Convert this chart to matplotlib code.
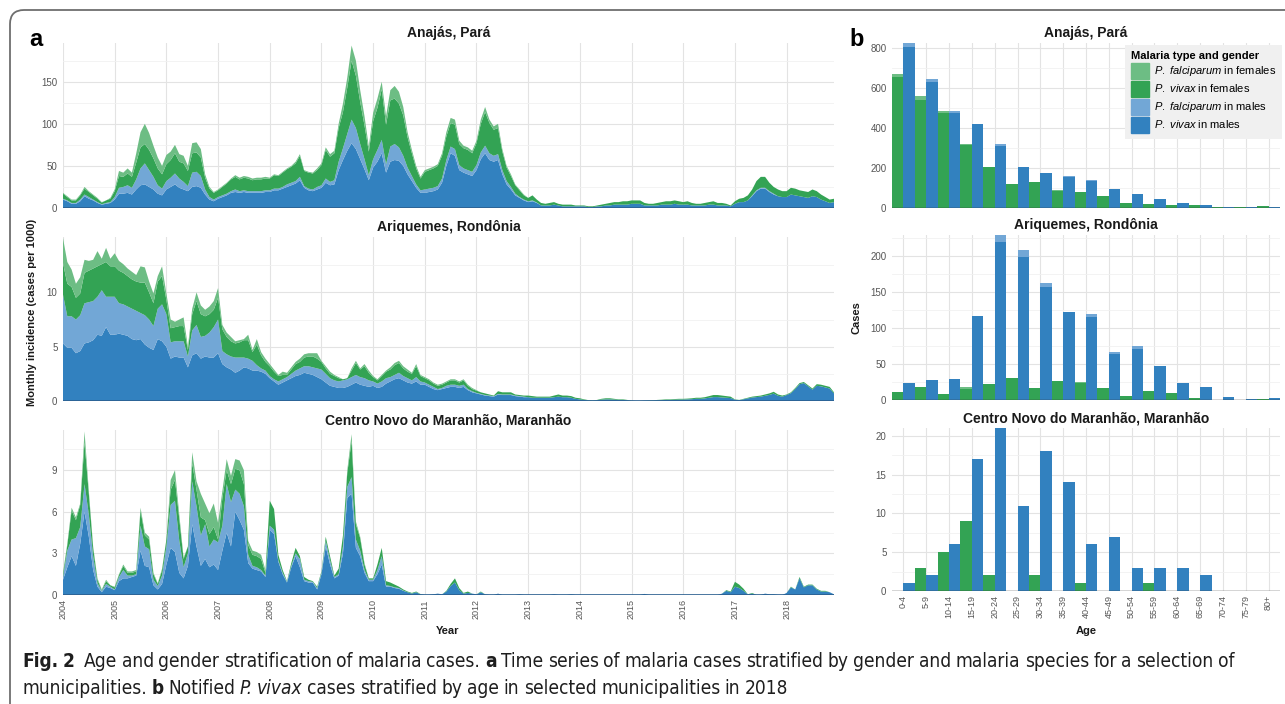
import numpy as np
import matplotlib.pyplot as plt
from matplotlib.patches import FancyBboxPatch, Patch
from matplotlib import font_manager

plt.rcParams['font.family'] = ['Liberation Sans', 'DejaVu Sans']
plt.rcParams['mathtext.fontset'] = 'custom'
plt.rcParams['mathtext.rm'] = 'Liberation Sans'
plt.rcParams['mathtext.it'] = 'Liberation Sans:italic'
plt.rcParams['mathtext.bf'] = 'Liberation Sans:bold'

# ---------------- data: monthly incidence 2004-01 .. 2018-12 ----------------
# vm = P. vivax males, fm = P. falciparum males, vf = P. vivax females, ff = P. falciparum females
anajas_vm = [
    10, 8, 5, 5, 8, 14, 11, 9, 6, 4, 5, 6,
    10, 17, 17, 18, 16, 22, 27, 28, 25, 22, 17, 15,
    22, 25, 28, 24, 22, 20, 25, 26, 24, 16, 10, 8,
    11, 13, 15, 18, 19, 18, 19, 18, 18, 18, 18, 19,
    19, 21, 21, 23, 25, 27, 29, 33, 24, 21, 20, 22,
    24, 30, 27, 28, 45, 57, 68, 77, 70, 58, 46, 33,
    48, 55, 65, 42, 55, 57, 56, 50, 40, 32, 24, 18,
    18, 19, 20, 22, 30, 50, 65, 62, 45, 42, 40, 38,
    45, 58, 65, 57, 55, 57, 40, 28, 22, 15, 12, 9,
    7, 8, 6, 3, 3, 3, 4, 3, 2, 2, 2, 2,
    2, 2, 1, 1, 2, 2, 3, 3, 4, 4, 4, 4,
    5, 5, 5, 3, 3, 3, 3, 4, 4, 4, 5, 4,
    4, 4, 3, 3, 3, 3, 4, 4, 3, 3, 3, 2,
    5, 7, 7, 9, 14, 20, 23, 23, 19, 16, 14, 13,
    13, 16, 15, 14, 13, 12, 14, 13, 10, 8, 6, 7,
]
anajas_fm = [
    1, 1, 1, 1, 2, 2, 2, 1, 1, 0.5, 1, 1,
    3, 7, 8, 9, 8, 12, 20, 25, 20, 15, 10, 8,
    10, 11, 13, 11, 9, 6, 17, 17, 14, 6, 3, 2,
    2, 2, 2, 2, 3, 2, 2, 2, 2, 2, 2, 2,
    2, 2, 2, 2, 3, 3, 3, 4, 2, 2, 2, 3,
    3, 5, 4, 5, 10, 14, 20, 28, 25, 18, 12, 6,
    10, 14, 16, 10, 18, 19, 16, 12, 8, 6, 4, 3,
    4, 4, 4, 4, 5, 7, 8, 8, 6, 5, 5, 5,
    6, 8, 9, 8, 7, 7, 5, 4, 3, 2, 1, 1,
    1, 1, 0.5, 0, 0, 0, 0, 0, 0, 0, 0, 0,
    0, 0, 0, 0, 0, 0, 0, 0, 0, 0, 0, 0,
    0, 0, 0, 0, 0, 0, 0, 0, 0, 0, 0, 0,
    0, 0, 0, 0, 0, 0, 0, 0, 0, 0, 0, 0,
    0, 0, 0, 0, 1, 1, 1, 1, 1, 1, 0, 0,
    0, 0, 0, 0, 0, 0, 0, 0, 0, 0, 0, 0,
]
anajas_vf = [
    6, 4, 3, 3, 5, 7, 6, 5, 4, 2, 3, 4,
    7, 14, 12, 14, 13, 20, 25, 23, 24, 22, 20, 17,
    20, 21, 24, 20, 22, 18, 23, 23, 22, 14, 10, 8,
    8, 10, 12, 14, 15, 14, 15, 15, 13, 14, 14, 14,
    14, 16, 15, 17, 18, 19, 21, 25, 18, 19, 19, 20,
    24, 34, 30, 32, 40, 43, 55, 70, 62, 50, 40, 28,
    45, 50, 60, 47, 55, 54, 52, 48, 36, 27, 19, 14,
    21, 22, 23, 24, 27, 28, 28, 29, 25, 24, 24, 22,
    26, 34, 40, 36, 31, 31, 22, 16, 13, 10, 8, 5,
    4, 6, 3.5, 3, 2, 3, 3, 2, 2, 2, 2, 1,
    1, 1, 1, 1, 1, 2, 2, 3, 3, 3, 4, 4,
    4, 4, 4, 3, 2, 2, 3, 3, 4, 4, 4, 4,
    3, 4, 3, 2, 2, 3, 3, 4, 3, 3, 2, 1,
    3, 4, 5, 6, 7, 11, 13, 13, 10, 8, 8, 7,
    7, 8, 8, 7, 7, 7, 8, 7, 6, 5, 4, 4,
]
anajas_ff = [
    1, 1, 1, 1, 1, 2, 1, 1, 1, 0.5, 0, 1,
    2, 6, 5, 6, 5, 11, 18, 24, 20, 15, 13, 10,
    11, 10, 10, 9, 9, 6, 12, 12, 10, 4, 2, 1,
    1, 1, 1, 1, 2, 2, 2, 2, 2, 2, 2, 2,
    1, 1, 1, 1, 1, 1, 2, 2, 1, 1, 1, 2,
    2, 3, 3, 3, 5, 10, 12, 18, 18, 14, 11, 6,
    10, 11, 9, 10, 12, 15, 14, 10, 6, 4, 3, 2,
    2, 2, 2, 2, 3, 5, 6, 6, 4, 3, 3, 3,
    3, 5, 6, 4, 4, 5, 3, 2, 2, 1, 1, 1,
] + [0] * 72

ariq_vm = [
    5.3, 4.9, 4.9, 4.4, 4.6, 5.3, 5.4, 5.6, 6.1, 6.0, 6.8, 6.1,
    6.1, 6.2, 6.1, 6.0, 5.7, 5.6, 5.7, 5.2, 4.9, 4.7, 5.7, 5.5,
    5.0, 3.9, 4.1, 4.0, 4.0, 3.1, 4.2, 4.4, 3.9, 4.1, 4.0, 4.0,
    4.4, 3.4, 3.1, 2.9, 2.6, 2.8, 3.1, 3.0, 2.8, 2.8, 2.7, 2.5,
    2.1, 1.8, 1.5, 1.7, 1.9, 2.1, 2.3, 2.4, 2.6, 2.5, 2.4, 2.2,
    2.0, 1.7, 1.4, 1.3, 1.2, 1.2, 1.3, 1.5, 1.7, 1.5, 1.4, 1.3,
    1.4, 1.2, 1.3, 1.6, 1.8, 2.0, 2.1, 1.9, 1.7, 1.6, 1.8, 1.5,
    1.5, 1.3, 1.1, 1.0, 1.1, 1.2, 1.3, 1.3, 1.2, 1.3, 1.0, 0.8,
    0.7, 0.6, 0.5, 0.45, 0.4, 0.6, 0.55, 0.55, 0.55, 0.45, 0.4, 0.35,
    0.35, 0.3, 0.3, 0.3, 0.3, 0.3, 0.35, 0.4, 0.35, 0.35, 0.3, 0.2,
    0.15, 0.1, 0.05, 0.03, 0.07, 0.13, 0.15, 0.15, 0.13, 0.1, 0.1, 0.07,
    0.01, 0, 0, 0.02, 0.03, 0.04, 0.07, 0.08, 0.1, 0.1, 0.12, 0.13,
    0.14, 0.15, 0.17, 0.2, 0.2, 0.24, 0.3, 0.36, 0.36, 0.33, 0.3, 0.27,
    0.12, 0.08, 0.16, 0.24, 0.32, 0.36, 0.4, 0.48, 0.56, 0.68, 0.48, 0.4,
    0.55, 0.72, 1.1, 1.55, 1.65, 1.35, 1.05, 1.4, 1.35, 1.25, 1.15, 0.7,
]
ariq_fm = [
    4.5, 2.9, 2.9, 3.1, 3.3, 3.7, 3.7, 3.6, 3.5, 4.2, 2.8, 3.5,
    3.5, 2.8, 2.8, 2.7, 2.8, 2.7, 2.4, 2.7, 2.6, 2.2, 2.8, 3.4,
    3.0, 1.5, 1.4, 1.5, 1.5, 1.0, 2.3, 2.6, 2.0, 1.9, 2.3, 2.8,
    3.1, 1.2, 1.2, 1.2, 1.4, 1.2, 0.9, 0.9, 0.9, 0.5, 0.3, 0.3,
    0.2, 0.2, 0.3, 0.3, 0.3, 0.4, 0.5, 0.6, 0.6, 0.7, 0.7, 0.8,
    0.9, 0.8, 0.7, 0.6, 0.6, 0.7, 0.7, 0.7, 0.7, 0.7, 0.7, 0.6,
    0.4, 0.4, 0.5, 0.5, 0.4, 0.4, 0.5, 0.4, 0.4, 0.3, 0.4, 0.3,
    0.2, 0.2, 0.2, 0.1, 0.1, 0.2, 0.2, 0.2, 0.2, 0.2, 0.1, 0.1,
    0.05, 0.05, 0.05, 0.05, 0.05, 0.05, 0.05, 0.05, 0.05, 0.05, 0.05, 0.05,
] + [0] * 72
ariq_vf = [
    2.9, 3.0, 2.7, 2.0, 2.0, 2.8, 2.9, 3.0, 2.8, 2.4, 3.2, 2.8,
    2.8, 3.0, 2.9, 2.8, 2.7, 2.7, 2.8, 3.0, 2.5, 2.1, 2.5, 2.6,
    1.3, 1.3, 1.3, 1.4, 1.4, 0.6, 1.5, 2.2, 2.1, 1.8, 1.7, 1.6,
    2.0, 2.0, 1.6, 1.4, 1.3, 1.4, 1.6, 1.7, 0.8, 1.9, 1.2, 0.8,
    0.9, 0.7, 0.5, 0.4, 0.2, 0.4, 0.6, 0.6, 0.8, 0.9, 1.0, 0.9,
    0.7, 0.5, 0.4, 0.4, 0.3, 0.1, 0.1, 0.6, 1.1, 0.7, 1.1, 0.7,
    0.4, 0.3, 0.5, 0.6, 0.7, 0.9, 0.9, 0.7, 0.6, 0.6, 1.0, 0.5,
    0.4, 0.4, 0.3, 0.3, 0.3, 0.3, 0.4, 0.4, 0.3, 0.4, 0.3, 0.2,
    0.2, 0.15, 0.15, 0.1, 0.05, 0.25, 0.2, 0.2, 0.2, 0.1, 0.1, 0.1,
    0.15, 0.15, 0.1, 0.1, 0.1, 0.1, 0.15, 0.2, 0.15, 0.15, 0.15, 0.1,
    0.1, 0.05, 0.03, 0.02, 0.03, 0.07, 0.1, 0.1, 0.07, 0.05, 0.05, 0.03,
    0.01, 0, 0, 0.01, 0.02, 0.02, 0.03, 0.04, 0.05, 0.05, 0.06, 0.07,
    0.06, 0.07, 0.08, 0.1, 0.1, 0.11, 0.15, 0.19, 0.19, 0.17, 0.15, 0.13,
    0.03, 0.02, 0.04, 0.06, 0.08, 0.09, 0.1, 0.12, 0.14, 0.17, 0.12, 0.1,
    0.05, 0.08, 0.1, 0.1, 0.1, 0.1, 0.1, 0.15, 0.15, 0.15, 0.15, 0.1,
]
ariq_ff = [
    2.3, 2.0, 1.6, 1.3, 1.5, 1.2, 0.9, 0.8, 1.4, 0.5, 1.3, 0.7,
    1.2, 0.9, 0.8, 0.7, 0.7, 0.6, 1.5, 1.4, 1.0, 0.9, 0.5, 0.9,
    0.6, 0.8, 0.5, 0.6, 0.8, 0.3, 0.5, 0.8, 0.8, 0.6, 0.7, 0.8,
    0.9, 0.4, 0.4, 0.4, 0.2, 0.2, 0.1, 0.5, 0.2, 0.5, 0.3, 0.3,
    0.2, 0.2, 0.1, 0.3, 0.2, 0.2, 0.2, 0.3, 0.3, 0.3, 0.3, 0.5,
    0.1, 0.2, 0.2, 0.1, 0.1, 0.0, 0.0, 0.2, 0.2, 0.1, 0.2, 0.2,
    0.1, 0.1, 0.1, 0.1, 0.2, 0.2, 0.2, 0.2, 0.2, 0.1, 0.2, 0.1,
    0.1, 0.1, 0.1, 0.1, 0.1, 0.1, 0.1, 0.1, 0.1, 0.1, 0.1, 0.1,
    0.05, 0, 0, 0, 0, 0, 0, 0, 0, 0, 0, 0,
] + [0] * 72

cn_vm = [
    1.1, 2.0, 2.8, 2.1, 3.7, 6.0, 4.2, 1.8, 0.6, 0.2, 0.6, 0.5,
    0.35, 1.0, 1.2, 1.2, 1.3, 1.4, 3.2, 2.1, 2.0, 0.7, 0.4, 0.8,
    2.2, 3.4, 3.1, 1.6, 1.2, 2.1, 5.1, 3.5, 2.1, 2.6, 2.0, 2.2,
    1.8, 3.2, 4.5, 3.5, 6.0, 5.4, 4.7, 2.3, 1.9, 1.8, 1.7, 1.3,
    4.7, 4.4, 2.4, 1.5, 0.9, 2.0, 2.8, 2.0, 1.0, 0.9, 0.9, 0.4,
    1.5, 3.5, 2.2, 1.2, 1.4, 3.0, 7.0, 7.3, 3.4, 2.8, 1.6, 1.0,
    1.0, 1.5, 2.2, 0.6, 0.6, 0.5, 0.45, 0.3, 0.2, 0.1, 0.2, 0.05,
    0, 0, 0.05, 0.1, 0.05, 0.25, 0.65, 0.9, 0.35, 0.1, 0.15, 0.1,
    0.05, 0.2, 0.05, 0, 0, 0.1, 0, 0, 0, 0, 0.05, 0,
    0, 0, 0, 0, 0, 0, 0.05, 0, 0, 0, 0.05, 0,
    0, 0, 0, 0, 0, 0, 0, 0, 0, 0, 0, 0,
    0, 0, 0, 0.08, 0, 0, 0, 0, 0, 0, 0, 0,
    0, 0, 0, 0, 0, 0, 0, 0, 0, 0.1, 0.3, 0.2,
    0.6, 0.5, 0.3, 0.05, 0.1, 0, 0, 0.1, 0.05, 0.05, 0, 0,
    0.15, 0.55, 0.4, 1.2, 0.55, 0.7, 0.7, 0.4, 0.25, 0.25, 0.2, 0.05,
]
cn_fm = [
    0.2, 1.2, 1.2, 2.0, 1.2, 2.0, 1.6, 1.0, 0.25, 0.1, 0.2, 0.1,
    0.05, 0.3, 0.6, 0.2, 0.1, 0.1, 1.8, 1.4, 1.3, 0.4, 0.25, 0.6,
    1.3, 3.1, 3.7, 2.3, 0.8, 0.9, 3.1, 2.9, 2.2, 2.5, 1.5, 1.8,
    2.0, 1.8, 3.5, 3.2, 1.6, 1.9, 1.7, 0.6, 0.2, 0.2, 0.1, 0.1,
    0.3, 0.3, 0.1, 0.1, 0.05, 0.1, 0.2, 0.6, 0.1, 0.1, 0.05, 0.1,
    0.1, 0.4, 0.3, 0.1, 0.1, 0.5, 0.8, 1.2, 0.6, 0.4, 0.2, 0.1,
    0.1, 0.3, 0.6, 0.1, 0.05, 0.05, 0.05, 0.02, 0, 0, 0, 0,
] + [0] * 96
cn_vf = [
    0.2, 0.4, 2.1, 1.3, 1.6, 3.0, 1.5, 0.6, 0.25, 0.05, 0.2, 0.1,
    0.15, 0.15, 0.3, 0.2, 0.2, 0.2, 1.1, 0.8, 0.7, 0.4, 0.15, 0.4,
    0.5, 1.1, 1.5, 1.6, 0.6, 0.5, 1.3, 1.2, 1.3, 0.3, 0.9, 0.9,
    0.2, 2.0, 1.0, 1.3, 1.5, 1.7, 1.6, 0.7, 0.8, 0.8, 0.8, 0.2,
    1.8, 1.5, 0.4, 0.2, 0.05, 0.2, 0.4, 0.2, 0.2, 0.1, 0.05, 0.1,
    0.1, 0.3, 0.3, 0.1, 0.4, 0.8, 1.0, 2.6, 1.1, 0.9, 0.4, 0.1,
    0.1, 0.4, 0.6, 0.3, 0.25, 0.2, 0.1, 0.08, 0.05, 0.05, 0.05, 0.02,
    0, 0, 0, 0, 0, 0.05, 0.15, 0.3, 0.15, 0.05, 0.1, 0,
    0, 0.05, 0, 0, 0, 0, 0, 0, 0, 0, 0, 0,
    0, 0, 0, 0, 0, 0, 0, 0, 0, 0, 0, 0,
    0, 0, 0, 0, 0, 0, 0, 0, 0, 0, 0, 0,
    0, 0, 0, 0, 0, 0, 0, 0, 0, 0, 0, 0,
    0, 0, 0, 0, 0, 0, 0, 0, 0, 0, 0.05, 0.05,
    0.35, 0.25, 0.15, 0, 0.05, 0, 0, 0, 0, 0, 0, 0,
    0, 0.05, 0, 0.1, 0.05, 0.05, 0.05, 0.05, 0.05, 0.05, 0, 0,
]
cn_ff = [
    0.1, 0.1, 0.2, 0.2, 0.1, 0.8, 0.2, 0.1, 0.1, 0.05, 0.1, 0.0,
    0.05, 0.05, 0.1, 0.1, 0.1, 0.1, 0.2, 0.2, 0.2, 0.1, 0.05, 0.1,
    0.0, 0.7, 0.7, 0.3, 0.1, 0.0, 0.8, 0.6, 1.7, 1.2, 1.5, 1.7,
    1.2, 0.5, 0.8, 0.6, 0.7, 0.7, 1.0, 0.3, 0.3, 0.3, 0.3, 0.2,
    0, 0, 0, 0, 0, 0, 0, 0, 0, 0, 0, 0,
    0, 0, 0, 0, 0, 0, 0.2, 0.5, 0.2, 0.1, 0.1, 0,
] + [0] * 108

# ---------------- data: 2018 cases by age group ----------------
age_groups = ['0-4', '5-9', '10-14', '15-19', '20-24', '25-29', '30-34', '35-39', '40-44',
              '45-49', '50-54', '55-59', '60-64', '65-69', '70-74', '75-79', '80+']
anajas_bar_vf = [655, 541, 475, 315, 204, 122, 128, 87, 79, 58, 25, 22, 17, 17, 5, 3, 12]
anajas_bar_ff = [15, 20, 10, 3, 2, 0, 2, 2, 1, 1, 0, 0, 0, 0, 0, 0, 0]
anajas_bar_vm = [806, 630, 477, 420, 310, 203, 174, 156, 137, 95, 72, 44, 25, 17, 3, 3, 5]
anajas_bar_fm = [20, 18, 10, 3, 8, 3, 3, 5, 5, 2, 0, 0, 0, 0, 0, 0, 0]
ariq_bar_vf = [11.5, 18, 9, 15, 22, 30, 16, 26, 24, 16, 6, 13, 10, 3, 0, 0, 1.5]
ariq_bar_ff = [0, 0.5, 0, 2.5, 0, 1, 1, 0, 0.5, 0, 0, 0, 0, 0, 0, 0, 0]
ariq_bar_vm = [23, 27.5, 28.5, 116, 219, 199, 157, 122, 115, 64, 71, 47, 23, 18.5, 3.5, 2, 3]
ariq_bar_fm = [0, 0, 0, 0, 9.5, 9.5, 5, 0.5, 5, 3, 4, 0, 0, 0, 0, 0, 0]
cn_bar_vf = [0, 3, 5, 9, 2, 0, 2, 0, 1, 0, 0, 1, 0, 0, 0, 0, 0]
cn_bar_ff = [0] * 17
cn_bar_vm = [1, 2, 6, 17, 21, 11, 18, 14, 6, 7, 3, 3, 3, 2, 0, 0, 0]
cn_bar_fm = [0] * 17

c_vm, c_fm, c_vf, c_ff = '#3281bf', '#72a7d6', '#33a354', '#6dbd84'
grey_txt = '#555555'

W, H = 1285, 704
fig = plt.figure(figsize=(W / 100, H / 100), dpi=100)


def box(x0, y0, x1, y1):
    # pixel box (top-left origin) -> figure fraction rect
    return [x0 / W, 1 - y1 / H, (x1 - x0) / W, (y1 - y0) / H]


def style(ax):
    for s in ax.spines.values():
        s.set_visible(False)
    ax.set_axisbelow(True)
    ax.grid(which='major', color='#e3e3e3', lw=0.8)
    ax.grid(which='minor', axis='y', color='#f1f1f1', lw=0.6)
    ax.tick_params(which='both', length=0, labelsize=7, labelcolor=grey_txt, pad=4)


# ---------------- panel a: time series ----------------
months = 2004 + np.arange(180) / 12
panels_a = [
    ('Anajás, Pará', anajas_vm, anajas_fm, anajas_vf, anajas_ff, 196,
     [0, 50, 100, 150], [25, 75, 125, 175], (63, 43, 834, 208)),
    ('Ariquemes, Rondônia', ariq_vm, ariq_fm, ariq_vf, ariq_ff, 15.1,
     [0, 5, 10], [2.5, 7.5, 12.5], (63, 237, 834, 401)),
    ('Centro Novo do Maranhão, Maranhão', cn_vm, cn_fm, cn_vf, cn_ff, 11.9,
     [0, 3, 6, 9], [1.5, 4.5, 7.5, 10.5], (63, 430, 834, 595)),
]
for i, (name, vm, fm, vf, ff, ymax, major, minor, pos) in enumerate(panels_a):
    ax = fig.add_axes(box(*pos))
    ax.stackplot(months, vm, fm, vf, ff, colors=[c_vm, c_fm, c_vf, c_ff], lw=0)
    ax.axhline(0, color='#2b5f8f', lw=1.2)
    ax.set_xlim(2004, 2018 + 11 / 12)
    ax.set_ylim(0, ymax)
    ax.set_yticks(major)
    ax.set_yticks(minor, minor=True)
    ax.set_xticks(np.arange(2004, 2019))
    style(ax)
    ax.set_title(name, fontsize=10, fontweight='bold', color='#1a1a1a', pad=4)
    if i < 2:
        ax.tick_params(axis='x', labelbottom=False)
    else:
        ax.tick_params(axis='x', labelrotation=90, labelsize=6.5, pad=3)

# ---------------- panel b: age bars ----------------
xb = np.arange(len(age_groups))
panels_b = [
    ('Anajás, Pará', anajas_bar_vf, anajas_bar_ff, anajas_bar_vm, anajas_bar_fm, 826,
     np.arange(0, 801, 200), np.arange(100, 801, 200), (892, 43, 1280, 208)),
    ('Ariquemes, Rondônia', ariq_bar_vf, ariq_bar_ff, ariq_bar_vm, ariq_bar_fm, 229,
     np.arange(0, 201, 50), np.arange(25, 226, 50), (892, 235, 1280, 400)),
    ('Centro Novo do Maranhão, Maranhão', cn_bar_vf, cn_bar_ff, cn_bar_vm, cn_bar_fm, 21,
     np.arange(0, 21, 5), np.arange(2.5, 21, 5), (892, 428, 1280, 591)),
]
for i, (name, vf, ff, vm, fm, ymax, major, minor, pos) in enumerate(panels_b):
    ax = fig.add_axes(box(*pos))
    ax.bar(xb - 0.25, vf, 0.5, color=c_vf, lw=0)
    ax.bar(xb - 0.25, ff, 0.5, bottom=vf, color=c_ff, lw=0)
    ax.bar(xb + 0.25, vm, 0.5, color=c_vm, lw=0)
    ax.bar(xb + 0.25, fm, 0.5, bottom=vm, color=c_fm, lw=0)
    ax.axhline(0, color='#333333', lw=1.0)
    ax.set_xlim(-0.5, len(age_groups) - 0.5)
    ax.set_ylim(0, ymax)
    ax.set_yticks(major)
    ax.set_yticks(minor, minor=True)
    ax.set_xticks(xb)
    ax.set_xticklabels(age_groups)
    style(ax)
    ax.set_title(name, fontsize=10, fontweight='bold', color='#1a1a1a', pad=4)
    if i < 2:
        ax.tick_params(axis='x', labelbottom=False)
    else:
        ax.tick_params(axis='x', labelrotation=90, labelsize=6.5, pad=3)
    if i == 0:
        handles = [Patch(color=c_ff, label=r'$\it{P.\ falciparum}$ in females'),
                   Patch(color=c_vf, label=r'$\it{P.\ vivax}$ in females'),
                   Patch(color=c_fm, label=r'$\it{P.\ falciparum}$ in males'),
                   Patch(color=c_vm, label=r'$\it{P.\ vivax}$ in males')]
        leg = ax.legend(handles=handles, title='Malaria type and gender', loc='upper right',
                        bbox_to_anchor=(1.005, 0.99), fontsize=8, title_fontsize=8,
                        frameon=True, facecolor='#f0f0f0', edgecolor='none', fancybox=False,
                        framealpha=1, handlelength=1.6, handleheight=1.8, labelspacing=0.2,
                        handletextpad=0.45, borderpad=0.55, borderaxespad=0)
        leg.get_title().set_fontweight('bold')
        leg._legend_box.align = 'left'

# ---------------- shared labels ----------------
lab = dict(fontsize=8, fontweight='bold', color='#1a1a1a', ha='center', va='center')
fig.text(32 / W, 1 - 312 / H, 'Monthly incidence (cases per 1000)', rotation=90, **lab)
fig.text(448 / W, 1 - 631 / H, 'Year', **lab)
fig.text(857 / W, 1 - 318 / H, 'Cases', rotation=90, **lab)
fig.text(1086 / W, 1 - 631 / H, 'Age', **lab)
fig.text(36 / W, 1 - 40 / H, 'a', fontsize=17, fontweight='bold', ha='center', va='center')
fig.text(857 / W, 1 - 40 / H, 'b', fontsize=17, fontweight='bold', ha='center', va='center')

# outer rounded frame
frame = FancyBboxPatch((10, -40), 1320, H - 10 + 40, boxstyle='round,pad=0,rounding_size=14',
                       transform=None, fill=False, ec='#6e6e6e', lw=1.3)
fig.add_artist(frame)

# ---------------- caption ----------------
# prefer a condensed face if one is installed
cap_font, cap_stretch = 'DejaVu Sans', 'normal'
for f in font_manager.fontManager.ttflist:
    if ('Condensed' in f.name or 'Narrow' in f.name or
            f.stretch in ('condensed', 'semi-condensed', 'extra-condensed')):
        cap_font = f.name
        cap_stretch = f.stretch if isinstance(f.stretch, str) else 'normal'
        if 'Sans' in f.name or 'Roboto' in f.name:
            break
renderer = fig.canvas.get_renderer()

line1 = [('Fig. 2', 'bold', 'normal', 2.0),
         ('Age and gender stratification of malaria cases.', 'normal', 'normal', 1),
         ('a', 'bold', 'normal', 1),
         ('Time series of malaria cases stratified by gender and malaria species for a selection of',
          'normal', 'normal', 1)]
line2 = [('municipalities.', 'normal', 'normal', 1),
         ('b', 'bold', 'normal', 1),
         ('Notified', 'normal', 'normal', 1),
         ('P. vivax', 'normal', 'italic', 1),
         ('cases stratified by age in selected municipalities in 2018', 'normal', 'normal', 1)]


def write_line(runs, y, size, draw=True):
    x = 22
    made = []
    a = fig.text(0, 0, 'n n', fontsize=size, family=cap_font, fontstretch=cap_stretch)
    b = fig.text(0, 0, 'nn', fontsize=size, family=cap_font, fontstretch=cap_stretch)
    sp = (a.get_window_extent(renderer).width - b.get_window_extent(renderer).width) * 0.85
    a.remove()
    b.remove()
    for txt, weight, fstyle, nsp in runs:
        words = txt.split(' ')
        for k, w in enumerate(words):
            t = fig.text(x / W, 1 - y / H, w, fontsize=size, fontweight=weight, fontstyle=fstyle,
                         family=cap_font, fontstretch=cap_stretch, color='#1e1e1e',
                         va='baseline', ha='left')
            made.append(t)
            x += t.get_window_extent(renderer).width
            x += sp * (nsp if k == len(words) - 1 else 1)
    if not draw:
        for t in made:
            t.remove()
    return x - 22


trial = 12
wid = write_line(line1, 667, trial, draw=False)
cap_size = trial * 1215 / wid
write_line(line1, 667, cap_size)
write_line(line2, 694, cap_size)

fig.savefig('out.png', dpi=100)
